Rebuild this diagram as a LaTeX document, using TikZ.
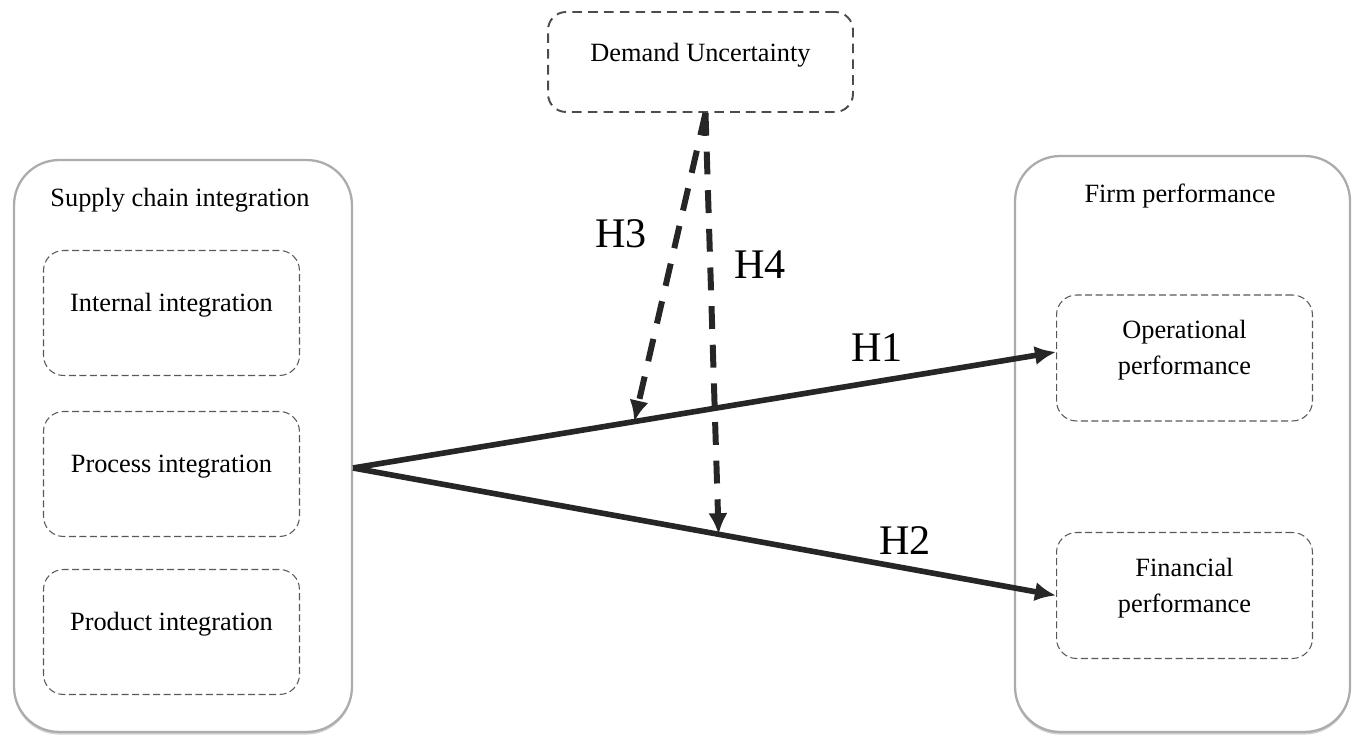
\documentclass[tikz,border=0pt]{standalone}
\usepackage{fontspec}
\setmainfont{Liberation Serif}
\usepackage{tikz}
\usetikzlibrary{arrows.meta,calc,positioning,shadows}

\begin{document}
\begin{tikzpicture}[x=0.02cm,y=0.02cm, every node/.style={font=\fontsize{15}{20.5}\selectfont,align=center},
  group/.style={rounded corners=0.9cm,draw=gray!65,line width=1.3pt,fill=white,
    drop shadow={shadow xshift=0pt,shadow yshift=-1.5pt,opacity=0.35}},
  part/.style={rounded corners=0.4cm,draw=gray!70!black,line width=0.6pt,dash pattern=on 4pt off 2pt,
    minimum width=5.12cm,text height=1.22cm,text depth=1.28cm,inner ysep=0pt},
  outcome/.style={part,text height=1.6cm,text depth=0.92cm},
  moderator/.style={rounded corners=0.36cm,draw=gray!60!black,line width=1.1pt,dash pattern=on 5.5pt off 3.5pt,
    minimum width=6.1cm,text height=1cm,text depth=1cm,inner ysep=0pt},
  arr/.style={-{Latex[length=12pt,width=11pt]},draw=black!85,line width=3.2pt},
  darr/.style={arr,line width=3.4pt,dash pattern=on 13pt off 9pt},
  hyp/.style={font=\fontsize{24}{28}\selectfont,inner sep=2pt}]
  \useasboundingbox (0,0) rectangle (1352,736);
  % left block
  \node[group,minimum width=6.76cm,minimum height=11.44cm] (sci) at (183,290) {};
  \node (scititle) at (180,536) {Supply chain integration};
  \node[part] (internal) at (171.5,423) {Internal integration};
  \node[part] (process) at (171.5,262) {Process integration};
  \node[part] (product) at (171.5,104) {Product integration};
  % right block
  \node[group,minimum width=6.7cm,minimum height=11.52cm] (fp) at (1182.5,292) {};
  \node (fptitle) at (1180,540) {Firm performance};
  \node[outcome] (oper) at (1184.5,378) {Operational\\performance};
  \node[outcome] (fin) at (1184.5,140.5) {Financial\\performance};
  % moderator
  \node[moderator] (du) at (700.5,674) {Demand Uncertainty};
  \coordinate (src) at ([yshift=-0.44cm]sci.east);
  \coordinate (dusrc) at ([xshift=0.1cm]du.south);
  \coordinate (h3end) at ($(src)!0.4!([yshift=0.12cm]oper.west)$);
  \coordinate (h4end) at ($(src)!0.52!(fin.west)$);
  \draw[arr] (src) -- node[hyp,pos=0.745,above=8pt] (h1) {H1} ([yshift=0.12cm]oper.west);
  \draw[arr] (src) -- node[hyp,pos=0.785,above=4pt] (h2) {H2} (fin.west);
  \draw[darr] (dusrc) -- node[hyp,pos=0.39,left=14pt] (h3) {H3} (h3end);
  \draw[darr] (dusrc) -- node[hyp,pos=0.36,right=10pt] (h4) {H4} (h4end);
\end{tikzpicture}
\end{document}
